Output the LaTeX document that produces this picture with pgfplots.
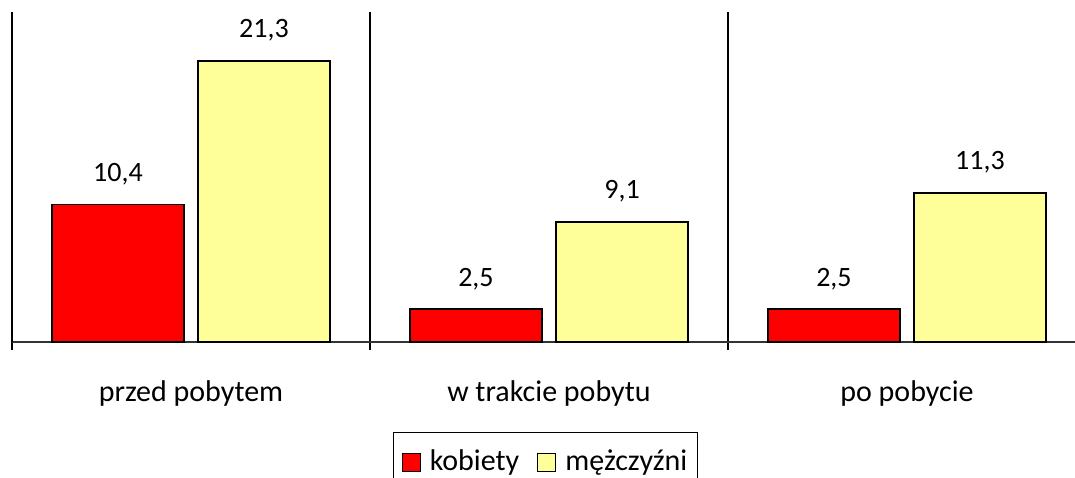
\documentclass[border=0pt]{standalone}
\usepackage{pgfplots}
\pgfplotsset{compat=1.18}
\usepackage{fontspec}
\setmainfont{Carlito}
\definecolor{barred}{RGB}{255,0,0}
\definecolor{baryellow}{RGB}{255,255,153}
\begin{document}
\fontsize{30}{36}\selectfont
\begin{tikzpicture}
\begin{axis}[
  at={(12pt,135pt)}, anchor=south west,
  scale only axis, width=1074pt, height=330pt,
  clip=false,
  ybar=14pt, bar width=132pt,
  xmin=-0.5, xmax=2.5, ymin=0, ymax=25,
  axis x line*=bottom, axis y line*=left,
  x axis line style={black!80, line width=1.5pt},
  y axis line style={black, line width=1.5pt},
  ytick=\empty,
  xtick={-0.5,0.5,1.5,2.5},
  x tick label as interval=true,
  xticklabels={przed pobytem, w trakcie pobytu, po pobycie},
  xticklabel style={anchor=base, yshift=-51pt},
  tick align=outside, major tick length=8pt,
  xtick style={draw=black, line width=1.5pt},
  xmajorgrids=true, major grid style={black, line width=1.5pt},
  nodes near coords,
  nodes near coords style={anchor=base, yshift=23pt, black,
    font=\fontsize{28}{34}\selectfont,
    /pgf/number format/.cd, use comma, fixed, fixed zerofill, precision=1, assume math mode=true},
  legend columns=2,
  legend style={draw=black, line width=1.2pt, fill=white,
    at={(axis description cs:0.4967,-0.2727)}, anchor=north,
    inner xsep=8pt, inner ysep=15pt, nodes={inner sep=2pt},
    /tikz/every odd column/.append style={column sep=7pt},
    /tikz/every even column/.append style={column sep=16pt}},
]
\addplot[fill=barred, draw=black, line width=1.5pt,
  legend image code/.code={\draw[fill=barred, draw=black, line width=1.2pt] (0pt,-9pt) rectangle (18pt,9pt);}]
  coordinates {(0,10.4) (1,2.5) (2,2.5)};
\addplot[fill=baryellow, draw=black, line width=1.5pt,
  legend image code/.code={\draw[fill=baryellow, draw=black, line width=1.2pt] (0pt,-9pt) rectangle (18pt,9pt);}]
  coordinates {(0,21.3) (1,9.1) (2,11.3)};
\legend{kobiety, mężczyźni}
\end{axis}
\pgfresetboundingbox
\path[use as bounding box] (0,0) rectangle (1075pt,477pt);
\end{tikzpicture}
\end{document}
